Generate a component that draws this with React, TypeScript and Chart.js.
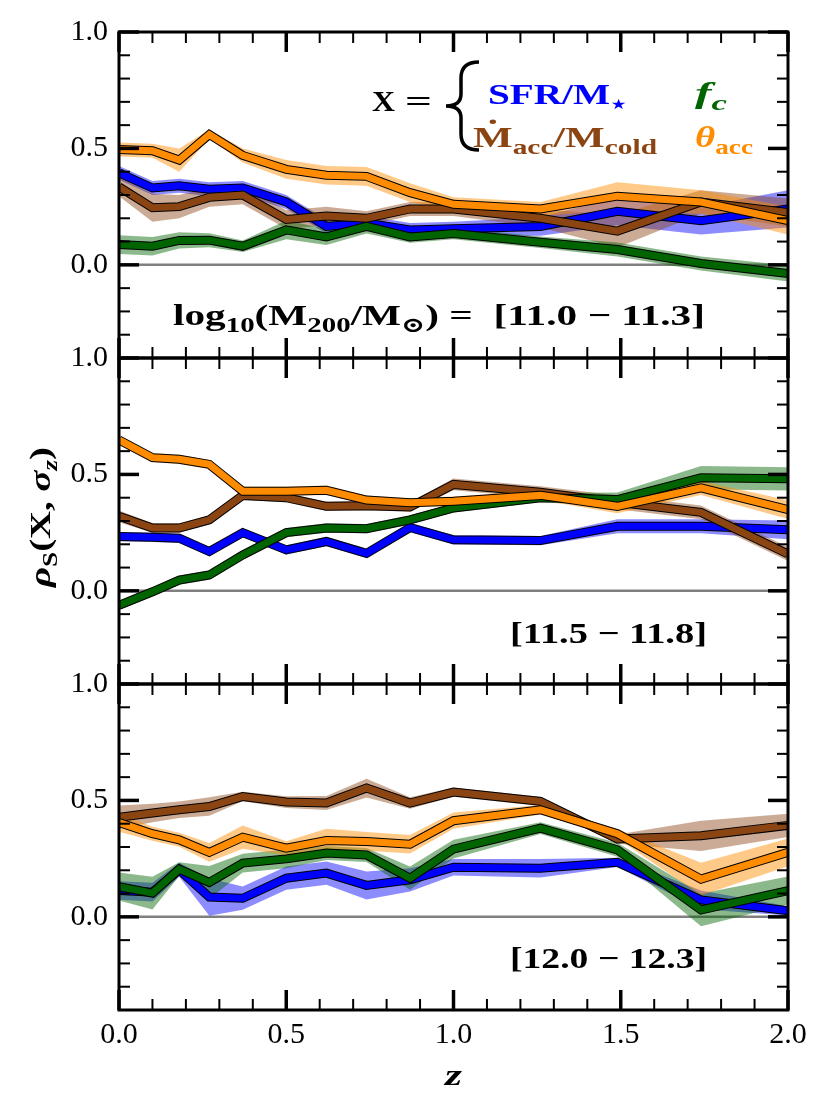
import React, { useEffect, useRef } from 'react';
import { Chart, registerables } from 'chart.js';

Chart.register(...registerables);

// redshift snapshots (shared x values)
const redshift = [0, 0.1, 0.18, 0.27, 0.37, 0.5, 0.62, 0.74, 0.87, 1.0, 1.26, 1.49, 1.74, 2.0];

// panel 1: log10(M200/Msun) = [11.0 - 11.3]
const sfr1 = [0.395, 0.33, 0.34, 0.325, 0.33, 0.27, 0.165, 0.18, 0.15, 0.155, 0.165, 0.23, 0.19, 0.24];
const sfr1Err = [0.03, 0.03, 0.03, 0.03, 0.03, 0.03, 0.03, 0.03, 0.03, 0.03, 0.04, 0.06, 0.06, 0.08];
const macc1 = [0.335, 0.245, 0.25, 0.29, 0.3, 0.195, 0.21, 0.2, 0.24, 0.24, 0.2, 0.145, 0.27, 0.225];
const macc1Err = [0.04, 0.06, 0.05, 0.04, 0.04, 0.04, 0.04, 0.03, 0.03, 0.03, 0.04, 0.07, 0.05, 0.06];
const fc1 = [0.087, 0.08, 0.105, 0.106, 0.08, 0.15, 0.12, 0.165, 0.12, 0.135, 0.097, 0.066, 0.006, -0.037];
const fc1Err = [0.04, 0.04, 0.035, 0.03, 0.025, 0.04, 0.035, 0.03, 0.025, 0.025, 0.025, 0.03, 0.03, 0.035];
const theta1 = [0.495, 0.49, 0.45, 0.56, 0.47, 0.41, 0.385, 0.38, 0.31, 0.26, 0.24, 0.295, 0.27, 0.19];
const theta1Err = [0.03, 0.03, 0.05, 0.02, 0.03, 0.04, 0.04, 0.04, 0.04, 0.03, 0.03, 0.06, 0.05, 0.06];

// panel 2: [11.5 - 11.8]
const sfr2 = [0.233, 0.23, 0.226, 0.169, 0.25, 0.176, 0.212, 0.161, 0.272, 0.219, 0.216, 0.277, 0.277, 0.262];
const sfr2Err = [0.02, 0.02, 0.02, 0.02, 0.02, 0.02, 0.02, 0.02, 0.02, 0.02, 0.02, 0.03, 0.03, 0.04];
const macc2 = [0.32, 0.27, 0.27, 0.305, 0.41, 0.4, 0.363, 0.366, 0.36, 0.457, 0.424, 0.38, 0.337, 0.158];
const macc2Err = [0.025, 0.02, 0.02, 0.02, 0.02, 0.02, 0.02, 0.02, 0.02, 0.025, 0.025, 0.03, 0.03, 0.03];
const fc2 = [-0.062, -0.004, 0.046, 0.068, 0.154, 0.25, 0.27, 0.267, 0.305, 0.356, 0.4, 0.392, 0.486, 0.481];
const fc2Err = [0.02, 0.02, 0.02, 0.02, 0.02, 0.02, 0.02, 0.02, 0.02, 0.02, 0.02, 0.03, 0.05, 0.05];
const theta2 = [0.648, 0.572, 0.565, 0.543, 0.428, 0.428, 0.432, 0.39, 0.378, 0.385, 0.41, 0.363, 0.442, 0.349];
const theta2Err = [0.02, 0.02, 0.02, 0.02, 0.02, 0.02, 0.02, 0.02, 0.02, 0.02, 0.02, 0.03, 0.03, 0.04];

// panel 3: [12.0 - 12.3]
const sfr3 = [0.113, 0.106, 0.202, 0.085, 0.08, 0.166, 0.188, 0.135, 0.159, 0.213, 0.209, 0.234, 0.073, 0.026];
const sfr3Err = [0.04, 0.04, 0.03, 0.08, 0.05, 0.05, 0.05, 0.06, 0.05, 0.035, 0.04, 0.02, 0.04, 0.02];
const macc3 = [0.428, 0.446, 0.46, 0.474, 0.517, 0.493, 0.489, 0.553, 0.489, 0.536, 0.496, 0.334, 0.348, 0.393];
const macc3Err = [0.05, 0.04, 0.035, 0.04, 0.02, 0.025, 0.03, 0.04, 0.025, 0.02, 0.02, 0.02, 0.065, 0.05];
const fc3 = [0.13, 0.102, 0.205, 0.148, 0.231, 0.249, 0.274, 0.266, 0.166, 0.291, 0.381, 0.288, 0.03, 0.113];
const fc3Err = [0.06, 0.07, 0.03, 0.07, 0.04, 0.04, 0.03, 0.03, 0.05, 0.04, 0.025, 0.03, 0.07, 0.06];
const theta3 = [0.405, 0.357, 0.331, 0.277, 0.342, 0.295, 0.328, 0.324, 0.312, 0.413, 0.46, 0.357, 0.162, 0.277];
const theta3Err = [0.04, 0.03, 0.03, 0.04, 0.05, 0.03, 0.05, 0.04, 0.04, 0.035, 0.02, 0.02, 0.07, 0.06];

const panelIds = ['y1', 'y2', 'y3'];
const panelLabels = ['[11.0 − 11.3]', '[11.5 − 11.8]', '[12.0 − 12.3]'];

// colours: SFR/M*, Macc/Mcold, fc, theta_acc
const lineColors = ['#0000ff', '#8b4513', '#006400', '#ff8c00'];
const bandColors = ['rgba(0,0,255,0.45)', 'rgba(139,69,19,0.45)', 'rgba(0,100,0,0.45)', 'rgba(255,140,0,0.47)'];

const panels = [
  [[sfr1, sfr1Err], [macc1, macc1Err], [fc1, fc1Err], [theta1, theta1Err]],
  [[sfr2, sfr2Err], [macc2, macc2Err], [fc2, fc2Err], [theta2, theta2Err]],
  [[sfr3, sfr3Err], [macc3, macc3Err], [fc3, fc3Err], [theta3, theta3Err]],
];

const SERIF = "'Liberation Serif', 'DejaVu Serif', serif";

const isMajor = (v: number) => Math.abs(v * 2 - Math.round(v * 2)) < 1e-6;
const fmt = (v: number) => (Math.abs(v) < 1e-9 ? '0.0' : v.toFixed(1));

type Seg = { t: string; sub?: boolean; it?: boolean; dot?: boolean };

function segFont(s: Seg, size: number) {
  const sz = s.sub ? size * 0.7 : size;
  return `${s.it ? 'italic ' : ''}bold ${sz}px ${SERIF}`;
}

// draws bold "math" text with subscripts, left edge at x, baseline y, squeezed to width
function drawRich(ctx: CanvasRenderingContext2D, segs: Seg[], x: number, y: number, size: number, color: string, width?: number) {
  ctx.save();
  ctx.fillStyle = color;
  ctx.textAlign = 'left';
  ctx.textBaseline = 'alphabetic';
  let natural = 0;
  for (const s of segs) {
    ctx.font = segFont(s, size);
    natural += ctx.measureText(s.t).width;
  }
  ctx.translate(x, y);
  if (width) ctx.scale(width / natural, 1);
  let cx = 0;
  for (const s of segs) {
    ctx.font = segFont(s, size);
    const w = ctx.measureText(s.t).width;
    ctx.fillText(s.t, cx, s.sub ? size * 0.22 : 0);
    if (s.dot) {
      ctx.beginPath();
      ctx.arc(cx + w / 2, -size * 0.84, size * 0.075, 0, Math.PI * 2);
      ctx.fill();
    }
    cx += w;
  }
  ctx.restore();
}

const zeroLines = {
  id: 'zeroLines',
  beforeDatasetsDraw(chart: any) {
    const { ctx, chartArea } = chart;
    ctx.save();
    ctx.strokeStyle = '#808080';
    ctx.lineWidth = 2.5;
    for (const id of panelIds) {
      const py = chart.scales[id].getPixelForValue(0);
      ctx.beginPath();
      ctx.moveTo(chartArea.left, py);
      ctx.lineTo(chartArea.right, py);
      ctx.stroke();
    }
    ctx.restore();
  },
};

const frameAndText = {
  id: 'frameAndText',
  afterDraw(chart: any) {
    const { ctx, chartArea } = chart;
    const { left, right } = chartArea;
    const xs = chart.scales.x;
    ctx.save();
    ctx.strokeStyle = '#000';
    const seg = (x0: number, y0: number, x1: number, y1: number) => {
      ctx.beginPath();
      ctx.moveTo(x0, y0);
      ctx.lineTo(x1, y1);
      ctx.stroke();
    };
    for (const id of panelIds) {
      const ys = chart.scales[id];
      const top = ys.top;
      const bottom = ys.bottom;
      for (const t of ys.ticks) {
        const major = isMajor(t.value);
        const py = ys.getPixelForValue(t.value);
        const len = major ? 20 : 11;
        ctx.lineWidth = major ? 3.5 : 2;
        seg(left, py, left + len, py);
        seg(right, py, right - len, py);
      }
      for (const t of xs.ticks) {
        const major = isMajor(t.value);
        const px = xs.getPixelForValue(t.value);
        const len = major ? 20 : 11;
        ctx.lineWidth = major ? 3.5 : 2;
        seg(px, top, px, top + len);
        seg(px, bottom, px, bottom - len);
      }
      ctx.lineWidth = 3;
      ctx.strokeRect(left, top, right - left, bottom - top);
    }
    ctx.restore();

    // panel mass-range labels
    drawRich(ctx, [
      { t: 'log' }, { t: '10', sub: true }, { t: '(M' }, { t: '200', sub: true },
      { t: '/M' }, { t: '⊙', sub: true }, { t: ') =  ' + panelLabels[0] },
    ], 173, 325, 30, '#000', 532);
    drawRich(ctx, [{ t: panelLabels[1] }], 510, 643, 30, '#000', 197);
    drawRich(ctx, [{ t: panelLabels[2] }], 510, 968, 30, '#000', 197);

    // legend
    drawRich(ctx, [{ t: 'X' }], 372, 111, 29, '#000', 23);
    drawRich(ctx, [{ t: '=' }], 405, 111, 29, '#000', 27);
    ctx.save();
    ctx.strokeStyle = '#000';
    ctx.lineWidth = 3.5;
    ctx.beginPath();
    ctx.moveTo(479, 62);
    ctx.quadraticCurveTo(461, 62, 461, 78);
    ctx.lineTo(461, 94);
    ctx.quadraticCurveTo(461, 106, 446, 106);
    ctx.quadraticCurveTo(461, 106, 461, 118);
    ctx.lineTo(461, 134);
    ctx.quadraticCurveTo(461, 150, 479, 150);
    ctx.stroke();
    ctx.restore();
    drawRich(ctx, [{ t: 'SFR/M' }, { t: '⋆', sub: true }], 488, 104, 30, lineColors[0], 139);
    drawRich(ctx, [{ t: 'f', it: true }, { t: 'c', sub: true, it: true }], 695, 103, 30, lineColors[2], 32);
    drawRich(ctx, [{ t: 'M', dot: true }, { t: 'acc', sub: true }, { t: '/M' }, { t: 'cold', sub: true }], 473, 147, 30, lineColors[1], 184);
    drawRich(ctx, [{ t: 'θ', it: true }, { t: 'acc', sub: true }], 695, 147, 30, lineColors[3], 58);

    // axis titles
    drawRich(ctx, [{ t: 'z', it: true }], 445, 1085, 30, '#000', 17);
    ctx.save();
    ctx.translate(50, 587);
    ctx.rotate(-Math.PI / 2);
    drawRich(ctx, [
      { t: 'ρ', it: true }, { t: 'S', sub: true }, { t: '(X, ' },
      { t: 'σ', it: true }, { t: 'z', sub: true, it: true }, { t: ')' },
    ], 0, 0, 30, '#000', 140);
    ctx.restore();
  },
};

function buildDatasets() {
  const sets: any[] = [];
  const pts = (arr: number[]) => redshift.map((z, i) => ({ x: z, y: arr[i] }));
  panels.forEach((series, p) => {
    const yAxisID = panelIds[p];
    // shaded bands first
    series.forEach(([mid, err], s) => {
      sets.push({ data: pts(mid.map((v, i) => v - err[i])), yAxisID, borderWidth: 0, pointRadius: 0, fill: false });
      sets.push({ data: pts(mid.map((v, i) => v + err[i])), yAxisID, borderWidth: 0, pointRadius: 0, fill: '-1', backgroundColor: bandColors[s] });
    });
    // then lines with a thin black edge
    series.forEach(([mid], s) => {
      const common = { data: pts(mid), yAxisID, pointRadius: 0, fill: false, tension: 0, borderJoinStyle: 'miter', borderCapStyle: 'butt' };
      sets.push({ ...common, borderColor: '#000', borderWidth: 9 });
      sets.push({ ...common, borderColor: lineColors[s], borderWidth: 7 });
    });
  });
  return sets.map((d, i) => ({ ...d, order: sets.length - i }));
}

function yScale(weight: number) {
  return {
    type: 'linear',
    position: 'left',
    stack: 'panels',
    stackWeight: 1,
    weight,
    min: -0.4,
    max: 1.0,
    grid: { display: false, drawTicks: false },
    border: { display: false },
    ticks: {
      stepSize: 0.1,
      autoSkip: false,
      padding: 11,
      color: '#000',
      font: { family: SERIF, size: 30 },
      callback: (v: number) => (isMajor(v) ? fmt(v) : ''),
    },
    afterFit: (s: any) => {
      s.width = 119;
    },
  };
}

const App: React.FC = () => {
  const canvasRef = useRef<HTMLCanvasElement>(null);
  const chartRef = useRef<Chart | null>(null);

  useEffect(() => {
    if (!canvasRef.current) return;
    if (chartRef.current) chartRef.current.destroy();

    chartRef.current = new Chart(canvasRef.current, {
      type: 'line',
      data: { datasets: buildDatasets() },
      options: {
        animation: false,
        responsive: true,
        maintainAspectRatio: false,
        layout: { padding: { left: 0, right: 43, top: 32, bottom: 0 } },
        plugins: { legend: { display: false }, tooltip: { enabled: false } },
        scales: {
          x: {
            type: 'linear',
            position: 'bottom',
            min: 0,
            max: 2,
            grid: { display: false, drawTicks: false },
            border: { display: false },
            ticks: {
              stepSize: 0.1,
              autoSkip: false,
              maxRotation: 0,
              minRotation: 0,
              padding: 7,
              color: '#000',
              font: { family: SERIF, size: 30 },
              callback: (v: number) => (isMajor(v) ? fmt(v) : ''),
            },
            afterFit: (s: any) => {
              s.height = 103;
            },
          },
          y1: yScale(3),
          y2: yScale(2),
          y3: yScale(1),
        } as any,
      },
      plugins: [zeroLines, frameAndText],
    } as any);

    return () => {
      if (chartRef.current) {
        chartRef.current.destroy();
        chartRef.current = null;
      }
    };
  }, []);

  return (
    <div style={{ position: 'absolute', left: 0, top: 0, width: 831, height: 1113, background: '#fff' }}>
      <canvas ref={canvasRef} />
    </div>
  );
};

export default App;
